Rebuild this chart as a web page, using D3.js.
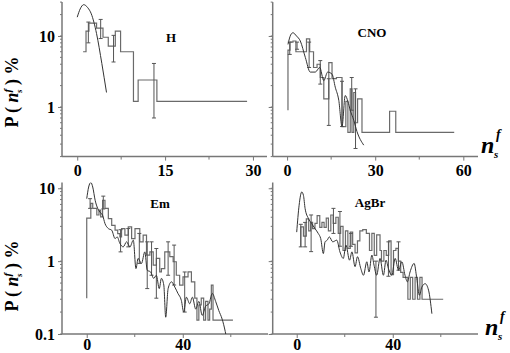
<!DOCTYPE html>
<html>
<head>
<meta charset="utf-8">
<script src="https://cdn.jsdelivr.net/npm/d3@7"></script>
<style>
  body { margin: 0; background: #fff; }
  text { font-family: "Times New Roman", "Liberation Serif", serif; font-weight: bold; fill: #000; }
</style>
</head>
<body>
<svg id="chart" width="510" height="353"></svg>
<script>
// ---- data ----
// H
let hEdges = [1, 1.5, 2, 3.3, 4.4, 5.3, 6.5, 7.4, 9.6, 10.4, 13.6, 29];
let hVals = [6.0, 11.7, 15.2, 12.9, 9.6, 7.2, 11.7, 6.0, 1.2, 2.4, 1.2];
let hErr = [[1.9, 8.0, 15.7], [4.0, 9.2, 17.1], [6.2, 4.3, 10.2], [13.1, 0.7, 4.1]];
let hCurve = [[0, 18.4], [0.5, 24], [1.1, 27.6], [1.8, 25], [2.4, 20.5], [3.3, 10.8], [4.2, 4.1], [5.0, 1.6]];

// CNO
let cnoStart = 0.9;
let cnoEdges = [0.3, 1, 2, 3, 4.5, 6.6, 7.7, 9, 10.2, 11.3, 12.5, 14.2, 15.3, 16.8, 18.7, 20, 20.7, 21.5, 22.1, 22.7, 23.3, 24, 25.5, 34.9, 37, 56.9];
let cnoVals = [6.3, 8.2, 8.5, 6.0, 6.0, 9.1, 6.0, 3.6, 4.0, 2.6, 1.3, 4.2, 2.5, 2.6, 0.53, 1.2, 0.44, 1.8, 0.44, 1.6, 0.6, 1.3, 0.44, 0.87, 0.44];
let cnoErr = [[0.9, 5.5, 8.2], [3.4, 6.5, 8.2], [7.5, 3.6, 8.2], [11.3, 2.1, 4.5], [14.2, 0.55, 2.5], [18.7, 0.53, 2.3], [22, 0.9, 2.6], [23.3, 0.26, 1.8]];
let cnoCurve = [[0.3, 7.6], [1.2, 10.3], [2, 11.1], [3.2, 10], [4.5, 8.5], [6.2, 5.0], [7.9, 3.1], [9.6, 3.1], [11.1, 3.6], [12.5, 2.35], [13.8, 3.1], [15.3, 2.9], [16.4, 1.9], [17.6, 1.24], [18.7, 0.53], [19.8, 1.45], [20.7, 1.2], [21.5, 0.9], [22.7, 0.65], [23.8, 0.45], [26.1, 0.29]];

// Em
let emStart = 0.31;
let emEdges = [0, 1.7, 2.5, 4.2, 5.1, 5.8, 6.6, 7.6, 9.0, 10.4, 11.8, 12.9, 13.8, 14.5, 15.9, 17.3, 18.7, 20.1, 22.1, 23.5, 24.9, 26.3, 27.7, 29.0, 30.4, 31.1, 32.5, 34.6, 36.0, 37.3, 38.7, 40.1, 42.2, 43.6, 45.0, 45.9, 46.7, 47.7, 48.7, 49.5, 50.5, 51.2, 51.9, 52.6, 60.9];
let emVals = [3.9, 6.2, 5.3, 4.3, 5.0, 4.05, 6.85, 5.3, 3.84, 3.1, 2.66, 2.39, 2.15, 2.8, 2.27, 2.95, 2.04, 2.8, 1.84, 2.27, 1.21, 1.34, 0.88, 1.09, 0.71, 0.79, 1.34, 1.15, 0.98, 0.64, 0.47, 0.61, 0.71, 0.52, 0.31, 0.155, 0.25, 0.31, 0.155, 0.28, 0.155, 0.22, 0.47, 0.155];
let emErr = [[1.4, 5.3, 7.2], [6.9, 5.2, 7.8], [14.1, 1.34, 2.7], [17.3, 1.57, 2.8], [21.9, 0.93, 2.4], [25.2, 0.42, 1.84], [27, 0.64, 1.84], [29, 0.31, 1.49], [33.9, 0.64, 1.84], [36.4, 0.47, 1.66], [40.8, 0.2, 0.71]];
let emCurve = [[0, 7.2], [0.8, 10.4], [1.7, 12], [2.5, 10.4], [3.5, 6.85], [4.6, 5.26], [5.5, 4.7], [6.6, 4.27], [7.6, 3.28], [9.0, 2.8], [10.4, 2.66], [11.8, 2.04], [12.7, 2.15], [13.8, 1.75], [15.2, 1.57], [16.6, 1.84], [18, 1.57], [19.4, 1.94], [20.5, 0.79], [21.4, 1.09], [22.8, 0.93], [24.2, 1.34], [25.2, 0.75], [26.6, 0.71], [27.9, 0.58], [29, 0.64], [30.2, 0.42], [31.1, 0.58], [32.1, 0.47], [32.9, 0.17], [33.9, 0.42], [35.3, 0.52], [36.7, 0.44], [38, 0.36], [39.4, 0.29], [40.4, 0.2], [41.5, 0.32], [42.9, 0.26], [44, 0.32], [45.4, 0.22], [46.7, 0.28], [48.1, 0.18], [49.5, 0.24], [50.9, 0.26], [52.3, 0.36], [53.7, 0.28], [55.0, 0.21], [56.4, 0.16], [57.7, 0.108], [58.3, 0.085]];

// AgBr
let agStart = 1.57;
let agEdges = [1.7, 2.8, 4.0, 5.0, 5.8, 6.6, 7.6, 8.5, 9.6, 10.5, 11.4, 12.3, 13.2, 14.2, 15.2, 16.3, 17.3, 18.3, 19.3, 20.3, 21.3, 22.3, 23.3, 24.3, 25.3, 26.3, 27.5, 29.0, 30.3, 31.3, 32.3, 33.3, 34.7, 35.3, 36.3, 37.3, 38.3, 39.3, 40.3, 41.3, 42.3, 43.3, 44.3, 45.3, 46.3, 47.3, 48.3, 49.3, 50.3, 51.3, 52.2, 61];
let agVals = [2.95, 2.2, 3.8, 2.6, 3.4, 2.8, 3.3, 4.2, 2.9, 3.4, 2.9, 3.9, 2.6, 4.3, 3.3, 4.0, 2.4, 3.0, 1.4, 2.6, 1.5, 2.5, 1.7, 1.3, 1.9, 2.6, 2.7, 2.4, 1.4, 2.4, 1.2, 2.3, 1.4, 1.0, 1.4, 1.2, 1.9, 0.65, 1.4, 1.5, 1.0, 0.7, 0.6, 0.6, 0.3, 0.6, 0.3, 0.6, 0.3, 0.6, 0.3];
let agErr = [[1.7, 1.57, 3.2], [3.5, 1.57, 3.4], [6.0, 1.35, 4.3], [15.3, 2.4, 5.3], [18.0, 1.6, 4.8], [22.6, 1.6, 2.4], [33.0, 0.17, 1.0], [38.2, 0.62, 1.84], [42.4, 0.75, 1.84]];
let agCurve = [[0, 2.5], [1.0, 5.85], [2.1, 8.9], [2.8, 8.0], [3.5, 5.26], [4.9, 3.84], [6.2, 3.28], [7.6, 2.8], [9.0, 2.39], [10.0, 2.04], [11.1, 1.27], [11.8, 1.84], [12.7, 1.94], [13.6, 2.15], [15.0, 1.84], [16.7, 1.94], [18.0, 1.34], [19.4, 1.09], [20.5, 1.66], [22.0, 1.03], [23.0, 1.34], [24.3, 0.84], [25.3, 1.15], [26.7, 0.79], [27.8, 0.64], [29.2, 0.98], [30.1, 0.71], [31.3, 1.21], [32.2, 0.88], [33.3, 0.64], [34.7, 1.09], [36.1, 0.64], [37.2, 1.03], [38.2, 0.79], [39.6, 0.64], [41.0, 1.09], [42.4, 0.75], [43.8, 0.98], [45.1, 0.64], [46.1, 0.52], [47.2, 0.71], [48.9, 0.93], [50.0, 0.58], [51.1, 0.34], [52.1, 0.44], [53.5, 0.49], [54.9, 0.40], [56.3, 0.19]];

// ---- layout ----
let svg = d3.select("#chart");
let histColor = "#6a6a6a";
let curveColor = "#333";
let axisColor = "#777";

let panels = [
	{ id: "h", label: "H", lx: 171, ly: 42, xd: [-2.6, 32.4], xr: [62, 267], yd: [0.2, 30], yr: [156.6, 2.1], pad: 4,
	  xt: [0, 15, 30], xm: [7.5, 22.5], yLab: true, start: null, edges: hEdges, vals: hVals, err: hErr, curve: hCurve },
	{ id: "cno", label: "CNO", lx: 372, ly: 37, xd: [-4.9, 65], xr: [272.7, 478], yd: [0.2, 30], yr: [156.6, 2.1], pad: 4,
	  xt: [0, 30, 60], xm: [15, 45], yLab: false, start: cnoStart, edges: cnoEdges, vals: cnoVals, err: cnoErr, curve: cnoCurve },
	{ id: "em", label: "Em", lx: 160, ly: 208, xd: [-10.3, 75.5], xr: [62, 268], yd: [0.1, 12], yr: [334, 182.5], pad: 1,
	  xt: [0, 40], xm: [20, 60], yLab: true, start: emStart, edges: emEdges, vals: emVals, err: emErr, curve: emCurve },
	{ id: "ag", label: "AgBr", lx: 370, ly: 207, xd: [-10, 75.5], xr: [272.7, 478], yd: [0.1, 12], yr: [334, 182.5], pad: 1,
	  xt: [0, 40], xm: [20, 60], yLab: false, start: agStart, edges: agEdges, vals: agVals, err: agErr, curve: agCurve }
];

panels.forEach(p => {
	let x = d3.scaleLinear().domain(p.xd).range(p.xr);
	let y = d3.scaleLog().domain(p.yd).range(p.yr);
	let g = svg.append("g");

	g.append("clipPath").attr("id", "clip-" + p.id)
		.append("rect")
		.attr("x", p.xr[0]).attr("y", p.yr[1])
		.attr("width", p.xr[1] - p.xr[0]).attr("height", p.yr[0] - p.yr[1]);

	// x axis
	let xAxis = d3.axisBottom(x).tickValues(p.xt).tickSize(4).tickPadding(p.pad).tickFormat(d3.format("d"));
	let xg = g.append("g").attr("transform", "translate(0," + p.yr[0] + ")").call(xAxis);
	xg.select(".domain").remove();
	xg.selectAll("line").attr("stroke", axisColor);
	xg.selectAll("text").attr("font-size", 16).attr("font-family", null);
	g.append("g").selectAll("line").data(p.xm).enter().append("line")
		.attr("x1", d => x(d)).attr("x2", d => x(d))
		.attr("y1", p.yr[0]).attr("y2", p.yr[0] + 3)
		.attr("stroke", axisColor);

	// y axis with log minor ticks
	let major = y.ticks().filter(d => Math.abs(Math.log10(d) - Math.round(Math.log10(d))) < 1e-6);
	let yAxis = d3.axisLeft(y).tickValues(major).tickSize(4).tickPadding(3)
		.tickFormat(p.yLab ? (d => d3.format("~g")(d)) : "");
	let yg = g.append("g").attr("transform", "translate(" + p.xr[0] + ",0)").call(yAxis);
	yg.select(".domain").remove();
	yg.selectAll("line").attr("stroke", axisColor);
	yg.selectAll("text").attr("font-size", 16).attr("font-family", null);
	g.append("g").selectAll("line").data(y.ticks()).enter().append("line")
		.attr("x1", p.xr[0] - 2).attr("x2", p.xr[0])
		.attr("y1", d => y(d)).attr("y2", d => y(d))
		.attr("stroke", axisColor);

	// axis lines
	g.append("line").attr("x1", p.xr[0]).attr("x2", p.xr[1]).attr("y1", p.yr[0]).attr("y2", p.yr[0])
		.attr("stroke", axisColor).attr("stroke-width", 1.5);
	g.append("line").attr("x1", p.xr[0]).attr("x2", p.xr[0]).attr("y1", p.yr[1]).attr("y2", p.yr[0])
		.attr("stroke", axisColor).attr("stroke-width", 1.5);

	let plot = g.append("g").attr("clip-path", "url(#clip-" + p.id + ")");

	// histogram as step line
	let pts = [];
	if (p.start !== null) pts.push([p.edges[0], p.start]);
	p.vals.forEach((v, i) => pts.push([p.edges[i], v]));
	pts.push([p.edges[p.edges.length - 1], p.vals[p.vals.length - 1]]);
	let step = d3.line().x(d => x(d[0])).y(d => y(d[1])).curve(d3.curveStepAfter);
	plot.append("path").datum(pts)
		.attr("d", step).attr("fill", "none")
		.attr("stroke", histColor).attr("stroke-width", 1.2);

	// error bars
	let eb = plot.append("g").selectAll("g").data(p.err).enter().append("g")
		.attr("stroke", "#555").attr("stroke-width", 1);
	eb.append("line").attr("x1", d => x(d[0])).attr("x2", d => x(d[0]))
		.attr("y1", d => y(d[1])).attr("y2", d => y(d[2]));
	eb.append("line").attr("x1", d => x(d[0]) - 2).attr("x2", d => x(d[0]) + 2)
		.attr("y1", d => y(d[1])).attr("y2", d => y(d[1]));
	eb.append("line").attr("x1", d => x(d[0]) - 2).attr("x2", d => x(d[0]) + 2)
		.attr("y1", d => y(d[2])).attr("y2", d => y(d[2]));

	// model curve
	let smooth = d3.line().x(d => x(d[0])).y(d => y(d[1])).curve(d3.curveMonotoneX);
	plot.append("path").datum(p.curve)
		.attr("d", smooth).attr("fill", "none")
		.attr("stroke", curveColor).attr("stroke-width", 1);

	g.append("text").attr("x", p.lx).attr("y", p.ly)
		.attr("text-anchor", "middle").attr("font-size", 13).text(p.label);
});

// y axis titles
function yTitle(cx, cy) {
	let t = svg.append("text")
		.attr("transform", "translate(" + cx + "," + cy + ") rotate(-90)")
		.attr("text-anchor", "middle").attr("font-size", 18);
	t.append("tspan").text("P ( ");
	t.append("tspan").attr("font-style", "italic").text("n");
	t.append("tspan").attr("font-style", "italic").attr("font-size", 11).attr("dy", -7).text("f");
	t.append("tspan").attr("font-style", "italic").attr("font-size", 9).attr("dx", -4).attr("dy", 11).text("s");
	t.append("tspan").attr("dy", -4).text(" ) %");
}
yTitle(18, 92);
yTitle(18, 276);

// x axis titles
function xTitle(nx, ny) {
	svg.append("text").attr("x", nx).attr("y", ny).attr("font-size", 24).attr("font-style", "italic").text("n");
	svg.append("text").attr("x", nx + 15).attr("y", ny - 14).attr("font-size", 14).attr("font-style", "italic").text("f");
	svg.append("text").attr("x", nx + 13).attr("y", ny + 5).attr("font-size", 11).attr("font-style", "italic").text("s");
}
xTitle(481, 153);
xTitle(485, 335);
</script>
</body>
</html>
